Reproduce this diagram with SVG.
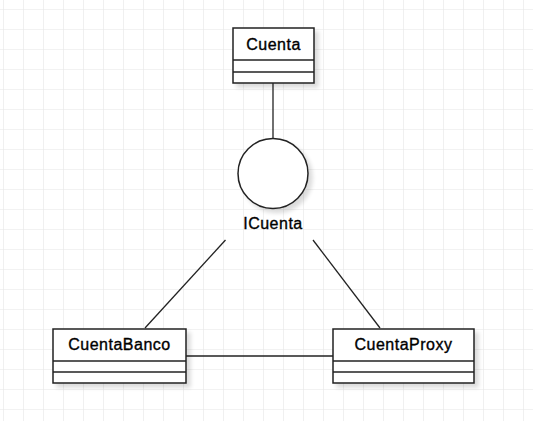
<svg xmlns="http://www.w3.org/2000/svg" width="533" height="421" viewBox="0 0 533 421">
<defs>
<pattern id="grid" x="3" y="9" width="20" height="20" patternUnits="userSpaceOnUse">
<path d="M0 0H20M0 0V20" fill="none" stroke="#e6e6e6" stroke-width="1.2"/>
</pattern>
<filter id="sh" x="-20%" y="-20%" width="150%" height="150%">
<feGaussianBlur in="SourceAlpha" stdDeviation="2"/>
<feOffset dx="4" dy="4"/>
<feComponentTransfer><feFuncA type="linear" slope="0.14"/></feComponentTransfer>
<feMerge><feMergeNode/><feMergeNode in="SourceGraphic"/></feMerge>
</filter>
</defs>
<style>
.box{fill:#fff;stroke:#222;stroke-width:1.5}
.sep{stroke:#222;stroke-width:1.5}
.lbl{font-family:"Liberation Sans",Arial,sans-serif;font-size:16px;letter-spacing:0.5px;fill:#000;stroke:#000;stroke-width:0.35;text-anchor:middle}
.conn{stroke:#222;stroke-width:1.3;fill:none}
</style>
<rect width="533" height="421" fill="#fff"/>
<rect width="533" height="421" fill="url(#grid)"/>
<g id="connectors">
<line class="conn" x1="273" y1="83" x2="273" y2="139"/>
<line class="conn" x1="225.5" y1="240" x2="145" y2="328"/>
<line class="conn" x1="313" y1="240" x2="380" y2="328"/>
<line class="conn" x1="186" y1="356" x2="333" y2="356"/>
</g>
<g id="Cuenta">
<rect class="box" x="233" y="28" width="81" height="55" filter="url(#sh)"/>
<line class="sep" x1="233" y1="60" x2="314" y2="60"/>
<line class="sep" x1="233" y1="72" x2="314" y2="72"/>
<text class="lbl" x="273.5" y="49.5">Cuenta</text>
</g>
<g id="ICuenta">
<circle cx="273" cy="173.5" r="35" fill="#fff" stroke="#222" stroke-width="1.5" filter="url(#sh)"/>
<text class="lbl" x="273" y="228.5">ICuenta</text>
</g>
<g id="CuentaBanco">
<rect class="box" x="53" y="329" width="133" height="54" filter="url(#sh)"/>
<line class="sep" x1="53" y1="361" x2="186" y2="361"/>
<line class="sep" x1="53" y1="372" x2="186" y2="372"/>
<text class="lbl" x="119.5" y="349.5">CuentaBanco</text>
</g>
<g id="CuentaProxy">
<rect class="box" x="333" y="329" width="141" height="54" filter="url(#sh)"/>
<line class="sep" x1="333" y1="361" x2="474" y2="361"/>
<line class="sep" x1="333" y1="372" x2="474" y2="372"/>
<text class="lbl" x="403.5" y="349.5">CuentaProxy</text>
</g>
</svg>
